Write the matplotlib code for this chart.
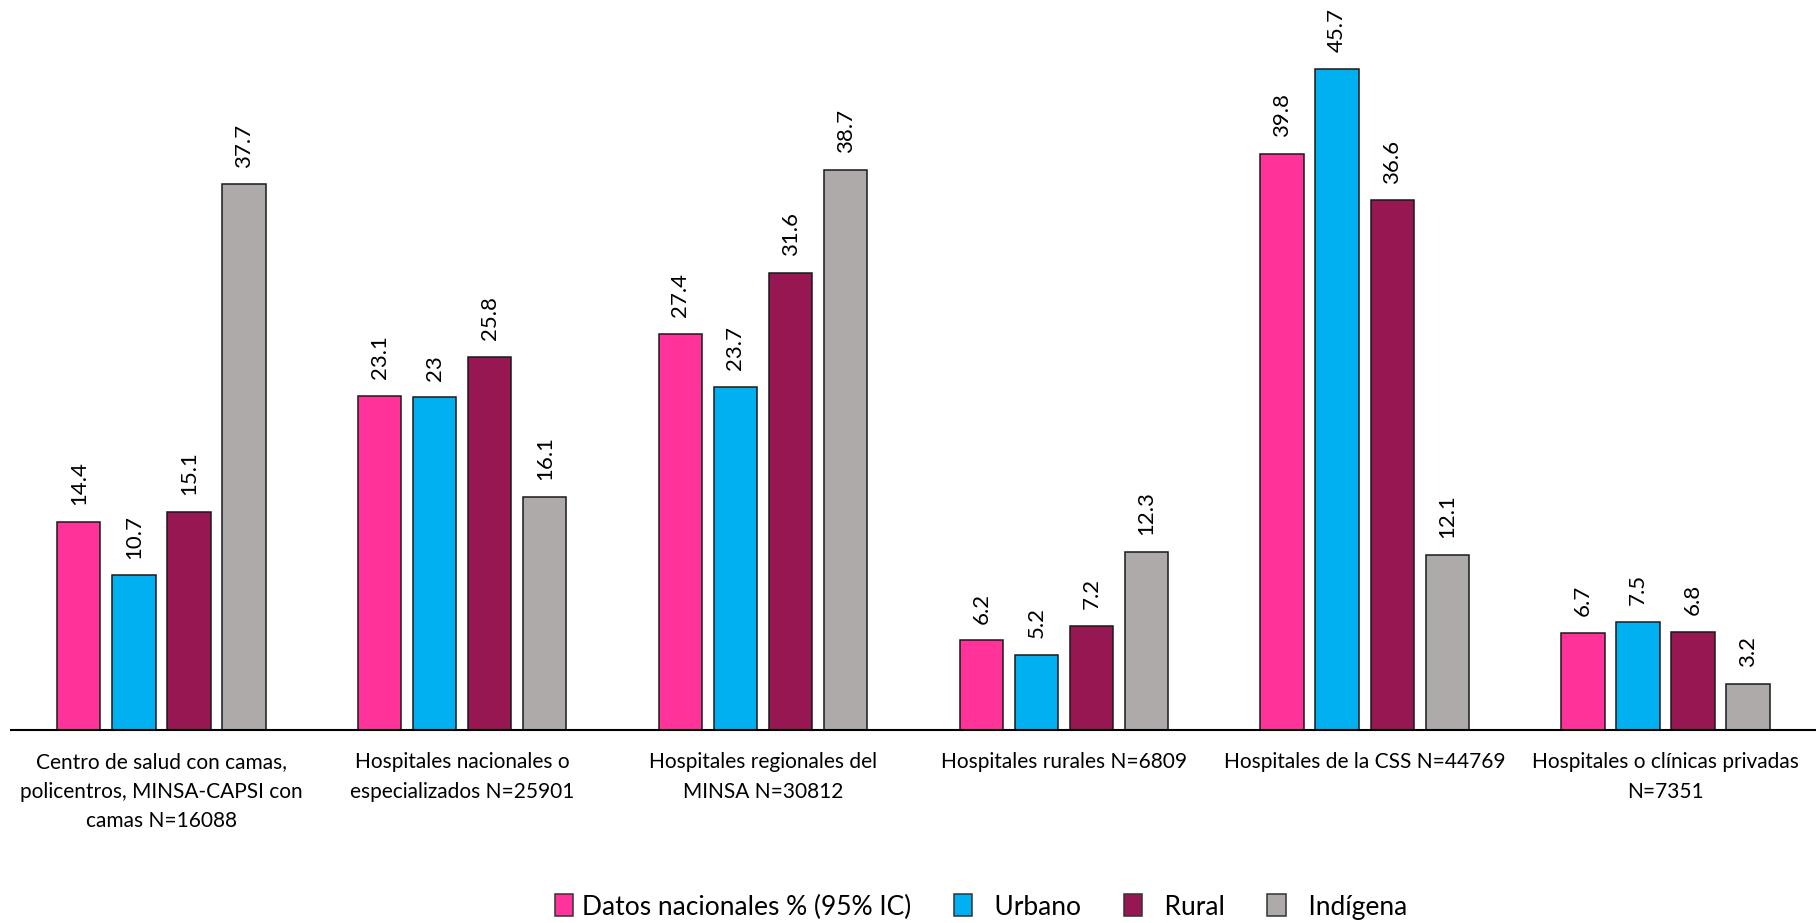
import matplotlib
matplotlib.use("Agg")
import matplotlib.pyplot as plt
from matplotlib.patches import Patch
import numpy as np

plt.rcParams["font.family"] = ["Lato", "DejaVu Sans"]

CATEGORIES = [
    "Centro de salud con camas,\npolicentros, MINSA-CAPSI con\ncamas N=16088",
    "Hospitales nacionales o\nespecializados N=25901",
    "Hospitales regionales del\nMINSA N=30812",
    "Hospitales rurales N=6809",
    "Hospitales de la CSS N=44769",
    "Hospitales o clínicas privadas\nN=7351",
]
SERIES = ["Datos nacionales % (95% IC)", "Urbano", "Rural", "Indígena"]
NACIONAL = [14.4, 23.1, 27.4, 6.2, 39.8, 6.7]
URBANO = [10.7, 23.0, 23.7, 5.2, 45.7, 7.5]
RURAL = [15.1, 25.8, 31.6, 7.2, 36.6, 6.8]
INDIGENA = [37.7, 16.1, 38.7, 12.3, 12.1, 3.2]
COLORS = ["#FF3399", "#00B0F0", "#961751", "#AEAAAA"]

values = [NACIONAL, URBANO, RURAL, INDIGENA]

fig = plt.figure(figsize=(18.16, 9.23), dpi=100)
ax = fig.add_axes([0.006, 0.209, 0.994, 0.784])

# four bars per facility type, value printed vertically above each bar
x = np.arange(len(CATEGORIES))
step, width = 0.183, 0.1445
for j, (vals, color) in enumerate(zip(values, COLORS)):
    pos = x + (j - 1.5) * step
    bars = ax.bar(pos, vals, width, color=color, edgecolor="#1a1a1a", linewidth=1.1)
    for b, v in zip(bars, vals):
        ax.annotate(f"{v:g}", (b.get_x() + b.get_width() / 2, v),
                    xytext=(0, 12), textcoords="offset points",
                    rotation=90, ha="center", va="bottom", fontsize=16)

ax.set_xlim(-0.5, len(CATEGORIES) - 0.5)
ax.set_ylim(0, 50)
ax.set_xticks(x)
ax.set_xticklabels(CATEGORIES, fontsize=15, linespacing=1.58)
ax.tick_params(axis="x", length=0, pad=16)
ax.set_yticks([])
for side in ("top", "right", "left"):
    ax.spines[side].set_visible(False)
ax.spines["bottom"].set_linewidth(1.5)

handles = [Patch(facecolor=c, edgecolor="#333333", linewidth=1.1) for c in COLORS]
labels = [SERIES[0], "  " + SERIES[1], "  " + SERIES[2], "  " + SERIES[3]]
fig.legend(handles, labels, loc="center", bbox_to_anchor=(981 / 1816, 1 - 907 / 923),
           ncol=4, frameon=False, fontsize=19, handlelength=0.7, handleheight=0.9,
           handletextpad=0.35, columnspacing=1.6)

fig.savefig("out.png", dpi=100)
